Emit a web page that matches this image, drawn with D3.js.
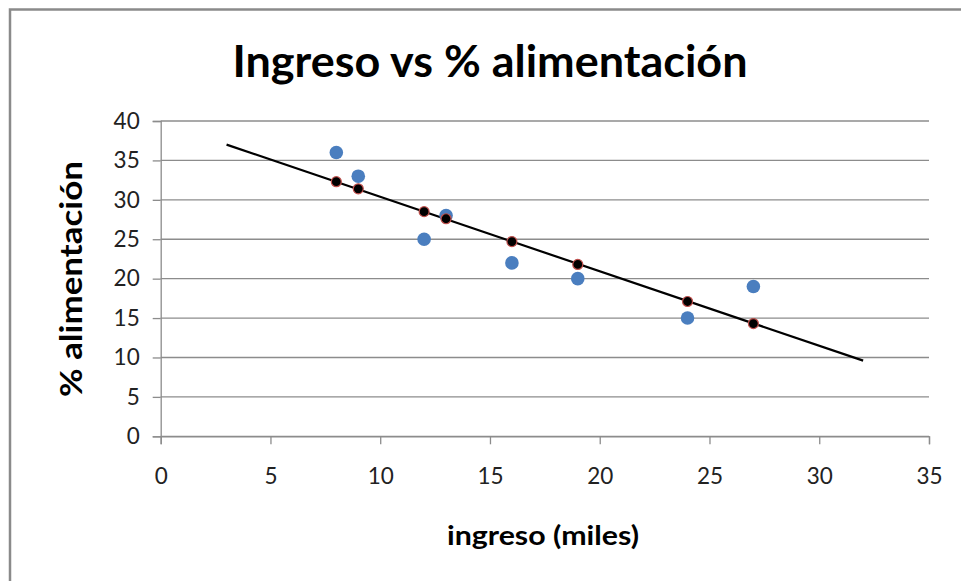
<!DOCTYPE html>
<html>
<head>
<meta charset="utf-8">
<script src="https://cdn.jsdelivr.net/npm/d3@7"></script>
<style>
  html, body { margin: 0; padding: 0; background: #fff; }
  svg { display: block; }
</style>
</head>
<body>
<svg id="chart" width="961" height="581"></svg>
<script>
// Observed data: income (thousands) vs. share spent on food (%)
const ingreso = [8, 9, 12, 13, 16, 19, 24, 27];
const alimentacion = [36, 33, 25, 28, 22, 20, 15, 19];
// Fitted values on the regression line for each observation
const ajustado = [32.3, 31.4, 28.5, 27.6, 24.7, 21.8, 17.1, 14.3];
// Trend line endpoints
const tendenciaX = [3, 32];
const tendenciaY = [37.0, 9.6];

const xTicks = [0, 5, 10, 15, 20, 25, 30, 35];
const yTicks = [0, 5, 10, 15, 20, 25, 30, 35, 40];

const font = "Lato, 'Open Sans', sans-serif";
const svg = d3.select("#chart");

// Outer chart frame
svg.append("rect")
  .attr("x", 10).attr("y", 9.5)
  .attr("width", 1000).attr("height", 1000)
  .attr("fill", "none").attr("stroke", "#8a8a8a").attr("stroke-width", 2.5);

const x = d3.scaleLinear().domain([0, 35]).range([160.7, 929]);
const y = d3.scaleLinear().domain([0, 40]).range([436.3, 121]);

const grid = "#8c8c8c";

// Horizontal gridlines
svg.append("g").selectAll("line").data(yTicks).join("line")
  .attr("x1", x(0)).attr("x2", x(35))
  .attr("y1", d => y(d)).attr("y2", d => y(d))
  .attr("stroke", grid).attr("stroke-width", 1.3);

// Y axis
const yAxis = svg.append("g")
  .attr("transform", `translate(${x(0)},0)`)
  .call(d3.axisLeft(y).tickValues(yTicks).tickSize(8).tickPadding(13));
yAxis.select(".domain").attr("stroke", grid).attr("stroke-width", 1.3);
yAxis.selectAll(".tick line").attr("stroke", grid).attr("stroke-width", 1.3);
yAxis.selectAll("text")
  .attr("font-family", font).attr("font-size", 22.5).attr("fill", "#222");

// X axis
const xAxis = svg.append("g")
  .attr("transform", `translate(0,${y(0)})`)
  .call(d3.axisBottom(x).tickValues(xTicks).tickSize(8).tickPadding(24));
xAxis.select(".domain").attr("stroke", grid).attr("stroke-width", 1.3);
xAxis.selectAll(".tick line").attr("stroke", grid).attr("stroke-width", 1.3);
xAxis.selectAll("text")
  .attr("font-family", font).attr("font-size", 22.5).attr("fill", "#222");

// Trend line
svg.append("line")
  .attr("x1", x(tendenciaX[0])).attr("y1", y(tendenciaY[0]))
  .attr("x2", x(tendenciaX[1])).attr("y2", y(tendenciaY[1]))
  .attr("stroke", "#000").attr("stroke-width", 2.2);

// Observed points
svg.append("g").selectAll("circle").data(ingreso).join("circle")
  .attr("cx", d => x(d))
  .attr("cy", (d, i) => y(alimentacion[i]))
  .attr("r", 6.8)
  .attr("fill", "#4a7ebf");

// Fitted points
svg.append("g").selectAll("circle").data(ingreso).join("circle")
  .attr("cx", d => x(d))
  .attr("cy", (d, i) => y(ajustado[i]))
  .attr("r", 5)
  .attr("fill", "#000")
  .attr("stroke", "#c0504d").attr("stroke-width", 1.2);

// Title
svg.append("text")
  .attr("x", 490).attr("y", 77)
  .attr("text-anchor", "middle")
  .attr("font-family", font).attr("font-weight", "bold").attr("font-size", 44)
  .attr("textLength", 515).attr("lengthAdjust", "spacingAndGlyphs")
  .attr("fill", "#000")
  .text("Ingreso vs % alimentación");

// X axis title
svg.append("text")
  .attr("x", 543).attr("y", 545)
  .attr("text-anchor", "middle")
  .attr("font-family", font).attr("font-weight", "bold").attr("font-size", 27)
  .attr("textLength", 192).attr("lengthAdjust", "spacingAndGlyphs")
  .attr("fill", "#000")
  .text("ingreso (miles)");

// Y axis title
svg.append("text")
  .attr("transform", "translate(82,279) rotate(-90)")
  .attr("text-anchor", "middle")
  .attr("font-family", font).attr("font-weight", "bold").attr("font-size", 31)
  .attr("textLength", 236).attr("lengthAdjust", "spacingAndGlyphs")
  .attr("fill", "#000")
  .text("% alimentación");
</script>
</body>
</html>
